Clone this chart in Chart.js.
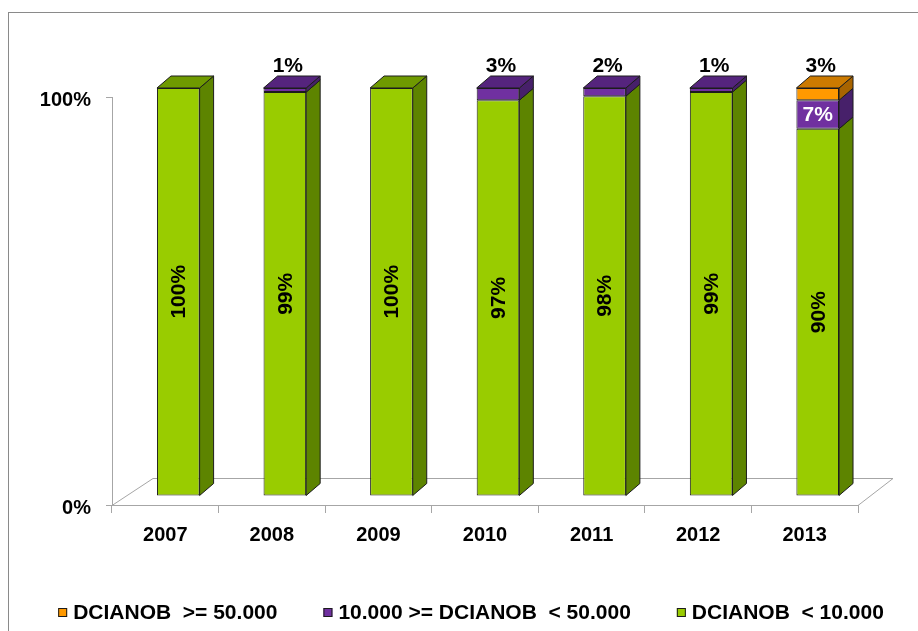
<!DOCTYPE html>
<html>
<head>
<meta charset="utf-8">
<script src="https://cdn.jsdelivr.net/npm/chart.js@4.4.1/dist/chart.umd.min.js"></script>
<style>
  html, body { margin: 0; padding: 0; background: #fff; }
</style>
</head>
<body>
<canvas id="shares" width="918" height="631"></canvas>
<script>
const years = ["2007", "2008", "2009", "2010", "2011", "2012", "2013"];
const seriesNames = ["DCIANOB  < 10.000", "10.000 >= DCIANOB  < 50.000", "DCIANOB  >= 50.000"];
const under10k = [100, 99, 100, 97, 98, 99, 90];
const from10kTo50k = [0, 1, 0, 3, 2, 1, 7];
const over50k = [0, 0, 0, 0, 0, 0, 3];
const yTicks = [0, 100];

const font = "'Liberation Sans', Arial, sans-serif";
const axisGrey = "#a6a6a6";
const edge = "#1c1c1c";

// fake 3d: bars pushed back from the front axis, plus their depth
const shift = { x: 13, y: -9 };
const depth = { x: 14, y: -12 };
const floorBack = { left: 41, right: 35, y: -27 };

const faces = [
    { front: "#99cc00", top: "#6f9a00", side: "#5d8400" },
    { front: "#7030a0", top: "#55247d", side: "#47206a" },
    { front: "#ff9900", top: "#cc7a00", side: "#a86400" }
];

function poly(ctx, pts, fill) {
    ctx.beginPath();
    ctx.moveTo(pts[0][0], pts[0][1]);
    for (let k = 1; k < pts.length; k++) ctx.lineTo(pts[k][0], pts[k][1]);
    ctx.closePath();
    if (fill) {
        ctx.fillStyle = fill;
        ctx.fill();
    }
    ctx.stroke();
}

const frame = {
    id: "frame",
    beforeDraw(chart) {
        const ctx = chart.ctx;
        ctx.save();
        ctx.fillStyle = "#fff";
        ctx.fillRect(0, 0, chart.width, chart.height);
        ctx.strokeStyle = "#8a8a8a";
        ctx.lineWidth = 1;
        ctx.strokeRect(8.5, 12.5, chart.width + 20, chart.height + 20);
        ctx.restore();
    }
};

const bars3d = {
    id: "bars3d",
    beforeDatasetsDraw(chart) {
        const ctx = chart.ctx;
        const a = chart.chartArea;
        ctx.save();
        ctx.strokeStyle = axisGrey;
        ctx.lineWidth = 1;
        poly(ctx, [
            [a.left, a.bottom + 0.5],
            [a.left + floorBack.left, a.bottom + floorBack.y + 0.5],
            [a.right + floorBack.right, a.bottom + floorBack.y + 0.5],
            [a.right, a.bottom + 0.5]
        ]);
        ctx.restore();

        ctx.save();
        ctx.translate(shift.x, shift.y);
    },
    afterDatasetsDraw(chart) {
        const ctx = chart.ctx;
        const sets = chart.data.datasets;
        ctx.lineWidth = 1;
        ctx.strokeStyle = edge;

        years.forEach((yr, i) => {
            let topIdx = -1;
            sets.forEach((ds, di) => { if (ds.data[i] > 0) topIdx = di; });
            sets.forEach((ds, di) => {
                if (!ds.data[i]) return;
                const p = chart.getDatasetMeta(di).data[i].getProps(["x", "y", "base", "width"], true);
                const l = p.x - p.width / 2, r = p.x + p.width / 2;
                poly(ctx, [
                    [r, p.y], [r + depth.x, p.y + depth.y],
                    [r + depth.x, p.base + depth.y], [r, p.base]
                ], faces[di].side);
                if (di === topIdx) {
                    poly(ctx, [
                        [l, p.y], [l + depth.x, p.y + depth.y],
                        [r + depth.x, p.y + depth.y], [r, p.y]
                    ], faces[di].top);
                }
            });
        });

        // value labels: big shares rotated inside, mid ones inside in white, slivers on top
        ctx.font = "bold 21px " + font;
        years.forEach((yr, i) => {
            let stackTop = Infinity;
            sets.forEach((ds, di) => {
                if (ds.data[i] > 0) stackTop = Math.min(stackTop, chart.getDatasetMeta(di).data[i].y);
            });
            sets.forEach((ds, di) => {
                const v = ds.data[i];
                if (!v) return;
                const p = chart.getDatasetMeta(di).data[i].getProps(["x", "y", "base"], true);
                const text = v + "%";
                if (v >= 50) {
                    ctx.save();
                    ctx.translate(p.x + 1, (p.y + p.base) / 2);
                    ctx.rotate(-Math.PI / 2);
                    ctx.fillStyle = "#000";
                    ctx.textAlign = "center";
                    ctx.textBaseline = "middle";
                    ctx.fillText(text, 0, 0);
                    ctx.restore();
                } else if (v >= 5) {
                    ctx.fillStyle = "#fff";
                    ctx.textAlign = "center";
                    ctx.textBaseline = "middle";
                    ctx.fillText(text, p.x, (p.y + p.base) / 2 + 1);
                } else {
                    ctx.fillStyle = "#000";
                    ctx.textAlign = "center";
                    ctx.textBaseline = "alphabetic";
                    ctx.fillText(text, p.x + 3, stackTop + depth.y - 4);
                }
            });
        });
        ctx.restore();
    }
};

const legendRow = {
    id: "legendRow",
    afterDraw(chart) {
        const ctx = chart.ctx;
        const sets = chart.data.datasets;
        const order = sets.map((d, k) => k).reverse();
        const box = 9, gap = 6, spacing = 46, y = 613;
        ctx.save();
        ctx.font = "bold 21px " + font;
        ctx.textBaseline = "middle";
        ctx.textAlign = "left";
        const widths = order.map(k => box + gap + ctx.measureText(sets[k].label).width);
        const total = widths.reduce((s, w) => s + w, 0) + spacing * (order.length - 1);
        let x = 471 - total / 2;
        order.forEach((k, n) => {
            ctx.fillStyle = faces[k].front;
            ctx.fillRect(x, y - 5, box, box);
            ctx.strokeStyle = edge;
            ctx.lineWidth = 1;
            ctx.strokeRect(x + 0.5, y - 4.5, box - 1, box - 1);
            ctx.fillStyle = "#000";
            ctx.fillText(sets[k].label, x + box + gap, y);
            x += widths[n] + spacing;
        });
        ctx.restore();
    }
};

const series = [under10k, from10kTo50k, over50k];

new Chart(document.getElementById("shares"), {
    type: "bar",
    data: {
        labels: years,
        datasets: series.map((vals, k) => ({
            label: seriesNames[k],
            data: vals,
            backgroundColor: faces[k].front,
            borderColor: edge,
            borderWidth: 1,
            borderSkipped: false,
            barPercentage: 0.4,
            categoryPercentage: 1,
            clip: false
        }))
    },
    options: {
        responsive: false,
        animation: false,
        devicePixelRatio: 1,
        layout: { padding: { left: 8, right: 60, top: 97, bottom: 0 } },
        scales: {
            x: {
                stacked: true,
                grid: { offset: true, drawOnChartArea: false, tickLength: 8, color: axisGrey },
                border: { color: axisGrey },
                ticks: { color: "#000", padding: 10, maxRotation: 0, font: { family: font, size: 20, weight: "bold" } },
                afterFit: s => { s.height = 126; }
            },
            y: {
                stacked: true,
                min: 0,
                max: 100,
                afterBuildTicks: s => { s.ticks = yTicks.map(v => ({ value: v })); },
                grid: { drawOnChartArea: false, tickLength: 6, color: axisGrey },
                border: { color: axisGrey },
                ticks: { color: "#000", padding: 15, labelOffset: 3, callback: v => v + "%", font: { family: font, size: 20, weight: "bold" } },
                afterFit: s => { s.width = 104; }
            }
        },
        plugins: {
            legend: { display: false },
            tooltip: { enabled: false }
        }
    },
    plugins: [frame, bars3d, legendRow]
});
</script>
</body>
</html>
